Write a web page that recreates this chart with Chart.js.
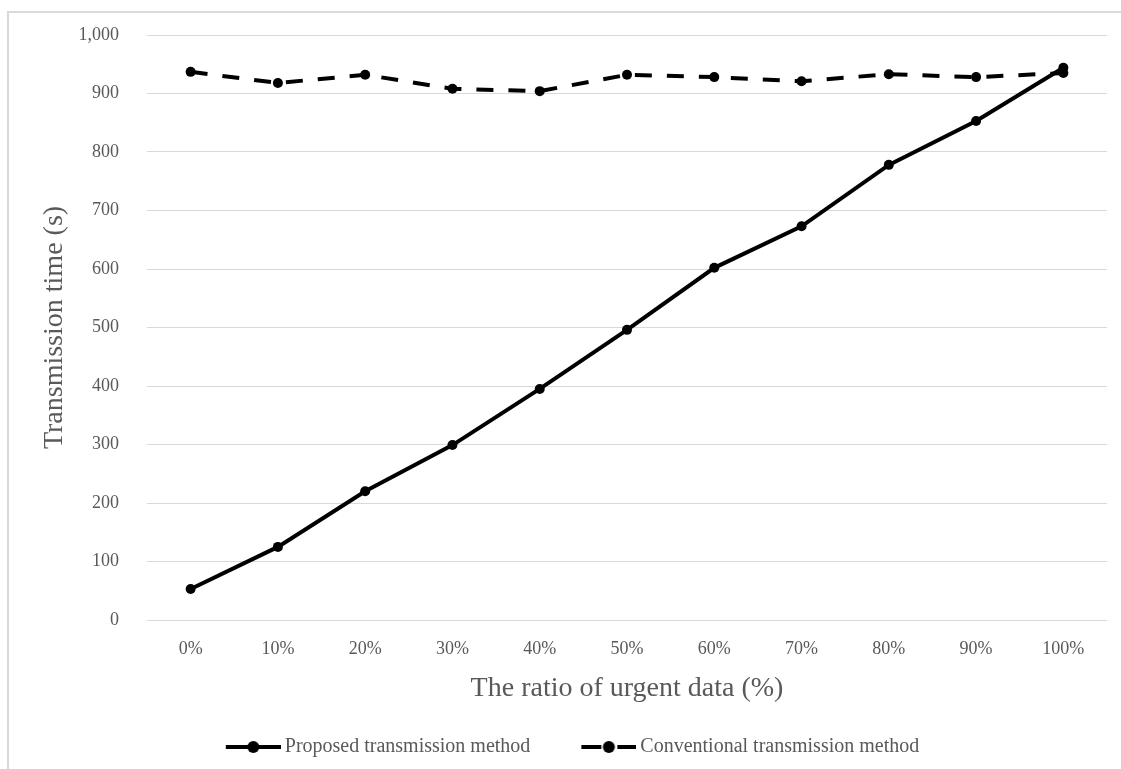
<!DOCTYPE html>
<html>
<head>
<meta charset="utf-8">
<script src="https://cdn.jsdelivr.net/npm/chart.js@4/dist/chart.umd.min.js"></script>
<style>
  html, body { margin: 0; padding: 0; background: #ffffff; overflow: hidden; }
  #frame {
    position: absolute; left: 7px; top: 11px; width: 2000px; height: 2000px;
    border: 2px solid #d9d9d9; box-sizing: border-box;
  }
  #wrap { position: absolute; left: 0; top: 0; width: 1121px; height: 769px; }
</style>
</head>
<body>
<div id="frame"></div>
<div id="wrap"><canvas id="chart" width="1121" height="769"></canvas></div>
<script>
// Share of urgent data on the x axis
const categories = ['0%', '10%', '20%', '30%', '40%', '50%', '60%', '70%', '80%', '90%', '100%'];
// Transmission time in seconds
const proposedTimes = [53, 125, 220, 299, 395, 496, 602, 673, 778, 853, 944];
const conventionalTimes = [937, 918, 932, 908, 904, 932, 928, 921, 933, 928, 935];
const seriesNames = ['Proposed transmission method', 'Conventional transmission method'];

const FONT = '"Liberation Serif", "DejaVu Serif", serif';
const TEXT = '#595959';
const GRID = '#d9d9d9';

// Legend markers: a short line with a dot, solid or dashed.
// The transparent lead-in spaces the items apart and pulls the
// marker close to its label.
const MARKER_BOX = 70;
function legendMarker(dashed) {
  const w = 55, lead = MARKER_BOX - 43;
  const c = document.createElement('canvas');
  c.width = lead + w; c.height = 14;
  const g = c.getContext('2d');
  g.strokeStyle = '#000'; g.fillStyle = '#000'; g.lineWidth = 4;
  g.beginPath();
  if (dashed) {
    g.moveTo(lead, 7); g.lineTo(lead + 20, 7);
    g.moveTo(lead + 36, 7); g.lineTo(lead + w, 7);
  } else {
    g.moveTo(lead, 7); g.lineTo(lead + w, 7);
  }
  g.stroke();
  g.beginPath(); g.arc(lead + w / 2, 7, 6, 0, Math.PI * 2); g.fill();
  return c;
}
const markers = [legendMarker(false), legendMarker(true)];

new Chart(document.getElementById('chart'), {
  type: 'line',
  data: {
    labels: categories,
    datasets: [
      {
        label: seriesNames[0],
        data: proposedTimes,
        borderColor: '#000', backgroundColor: '#000',
        borderWidth: 4, pointRadius: 5, pointBackgroundColor: '#000',
        pointBorderWidth: 0, tension: 0, order: 0
      },
      {
        label: seriesNames[1],
        data: conventionalTimes,
        borderColor: '#000', backgroundColor: '#000',
        borderWidth: 4, borderDash: [17, 15], pointRadius: 5,
        pointBackgroundColor: '#000', pointBorderWidth: 0, tension: 0, order: 1
      }
    ]
  },
  options: {
    responsive: false,
    animation: false,
    layout: { padding: { left: 17, right: 14, top: 35, bottom: 2 } },
    plugins: {
      tooltip: { enabled: false },
      legend: {
        position: 'bottom',
        labels: {
          font: { family: FONT, size: 20 },
          color: TEXT,
          padding: 30,
          usePointStyle: true,
          pointStyleWidth: MARKER_BOX,
          generateLabels(chart) {
            return chart.data.datasets.map((ds, i) => ({
              text: ds.label,
              pointStyle: markers[i],
              fontColor: TEXT,
              lineWidth: 0,
              strokeStyle: 'transparent',
              fillStyle: 'transparent',
              datasetIndex: i
            }));
          }
        }
      }
    },
    scales: {
      x: {
        offset: true,
        grid: { display: false, drawTicks: false },
        border: { display: false },
        ticks: { font: { family: FONT, size: 18 }, color: TEXT, padding: 18 },
        title: {
          display: true, text: 'The ratio of urgent data (%)',
          font: { family: FONT, size: 28 }, color: TEXT,
          padding: { top: 0, bottom: 2 }
        },
        afterFit(scale) { scale.height = 87; }
      },
      y: {
        min: 0, max: 1000,
        ticks: {
          stepSize: 100,
          font: { family: FONT, size: 18 }, color: TEXT, padding: 28,
          callback: v => v.toLocaleString('en-US')
        },
        grid: { color: GRID, lineWidth: 1, drawTicks: false },
        border: { display: false },
        title: {
          display: true, text: 'Transmission time (s)',
          font: { family: FONT, size: 28 }, color: TEXT,
          padding: { top: 21, bottom: 0 }
        },
        afterFit(scale) {
          scale.width = 130;
          // the layout padding already leaves room for the end labels
          scale.paddingTop = 0;
          scale.paddingBottom = 0;
        }
      }
    }
  }
});
</script>
</body>
</html>
